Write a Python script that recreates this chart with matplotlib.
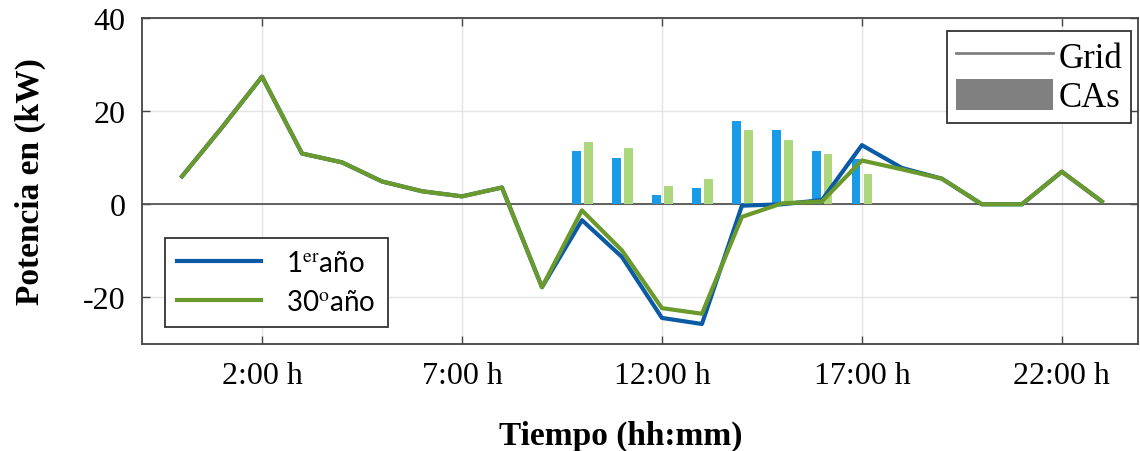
import matplotlib.pyplot as plt
import numpy as np
from matplotlib.lines import Line2D
from matplotlib.patches import Patch

# potencia intercambiada con la red, una muestra por hora
hours = np.arange(24)
grid_year1 = [6.0, 16.5, 27.4, 10.9, 9.0, 4.9, 2.8, 1.7, 3.6, -17.8,
              -3.4, -11.3, -24.4, -25.7, -0.3, 0.0, 0.9, 12.7,
              7.8, 5.5, 0.0, 0.0, 7.0, 0.6]
grid_year30 = [6.0, 16.5, 27.4, 10.9, 9.0, 4.9, 2.8, 1.7, 3.6, -17.8,
               -1.3, -9.9, -22.3, -23.5, -2.7, 0.2, 0.6, 9.4,
               7.5, 5.5, 0.0, 0.0, 7.0, 0.6]

# potencia de los CAs (solo horas con carga)
ca_hours = np.arange(10, 18)
ca_year1 = [11.4, 10.0, 1.9, 3.5, 17.9, 15.9, 11.4, 9.8]
ca_year30 = [13.4, 12.0, 4.0, 5.5, 15.9, 13.9, 10.9, 6.5]

xtick_pos = [2, 7, 12, 17, 22]
xtick_labels = ["2:00 h", "7:00 h", "12:00 h", "17:00 h", "22:00 h"]
ytick_pos = [-20, 0, 20, 40]
ytick_labels = ["-20", "0", "20", "40"]

plt.rcParams['mathtext.fontset'] = 'stix'
serif = "Liberation Serif"

fig = plt.figure(figsize=(11.4, 4.52), dpi=100)
ax = fig.add_axes([0.1246, 0.2367, 0.8735, 0.7213])

blue_line = "#0b5aa6"
green_line = "#6a9a2c"
blue_bar = "#1a9be8"
green_bar = "#acd77c"

ax.bar(ca_hours - 0.145, ca_year1, width=0.22, color=blue_bar, zorder=2)
ax.bar(ca_hours + 0.155, ca_year30, width=0.22, color=green_bar, zorder=2)

l1, = ax.plot(hours, grid_year1, color=blue_line, lw=3, zorder=3)
l2, = ax.plot(hours, grid_year30, color=green_line, lw=3, zorder=4)

ax.axhline(0, color="#555555", lw=1.3, zorder=1)

ax.set_xlim(-1, 23.9)
ax.set_ylim(-30, 40)
ax.set_xticks(xtick_pos)
ax.set_xticklabels(xtick_labels, fontfamily=serif, fontsize=23)
ax.set_yticks(ytick_pos)
ax.set_yticklabels(ytick_labels, fontfamily=serif, fontsize=23)
ax.tick_params(direction="in", length=6, width=1, top=True, right=True,
               colors="#444444", labelcolor="black", pad=12)
ax.grid(True, color="#e4e4e4", lw=1)
ax.set_axisbelow(True)
for s in ax.spines.values():
    s.set_color("#444444")
    s.set_linewidth(1.3)

ax.set_xlabel("Tiempo (hh:mm)", fontfamily=serif, fontweight="bold",
              fontsize=24, va="center")
ax.xaxis.set_label_coords(0.481, -0.28)
ax.set_ylabel("Potencia en (kW)", fontfamily=serif, fontweight="bold",
              fontsize=24, va="center")
ax.yaxis.set_label_coords(-0.112, 0.5)

leg1 = ax.legend([l1, l2], ["1$^{\\mathrm{er}}$año", "30$^{\\mathrm{o}}$año"],
                 loc="lower left", bbox_to_anchor=(0.023, 0.052),
                 prop={"family": "Lato", "size": 20}, fancybox=False,
                 edgecolor="#333333", framealpha=1, handlelength=3.0,
                 handletextpad=0.9, borderpad=0.45, labelspacing=0.45,
                 borderaxespad=0)
leg1.get_frame().set_linewidth(1.3)
ax.add_artist(leg1)

handles = [Line2D([], [], color="#808080", lw=2),
           Patch(facecolor="#808080", edgecolor="none")]
leg2 = ax.legend(handles, ["Grid", "CAs"], loc="upper right",
                 bbox_to_anchor=(0.993, 0.96),
                 prop={"family": serif, "size": 25}, fancybox=False,
                 edgecolor="#333333", framealpha=1, handlelength=2.8,
                 handleheight=1.0, handletextpad=0.15, borderpad=0.25,
                 labelspacing=0.1, borderaxespad=0)
leg2.get_frame().set_linewidth(1.3)

fig.savefig("out.png", dpi=100)
